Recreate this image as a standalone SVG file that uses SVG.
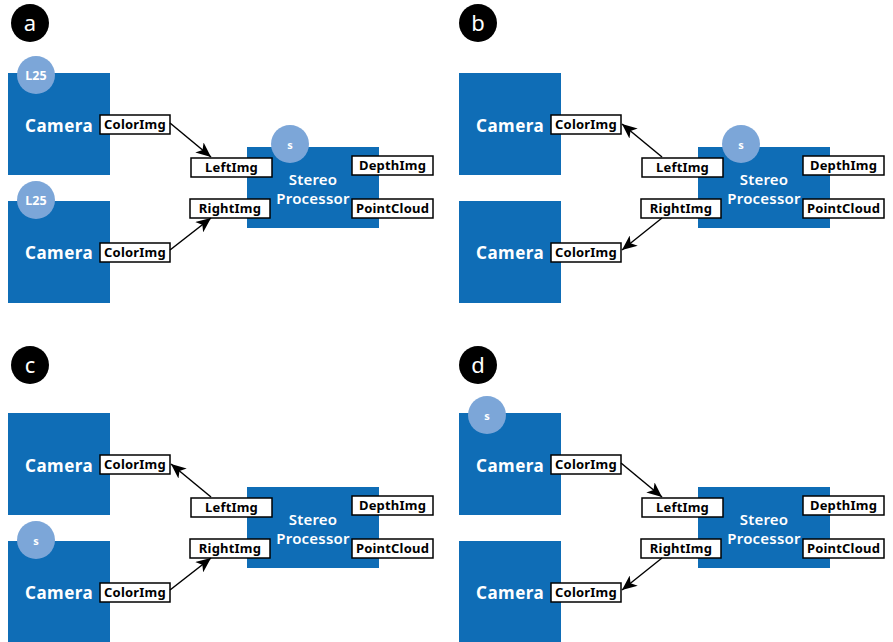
<svg xmlns="http://www.w3.org/2000/svg" width="893" height="642" viewBox="0 0 893 642">
<style>
.blk{fill:#0f6db6}
.lc{fill:#7ca6d8}
.lct{fill:#fff;font-family:"Noto Sans","Open Sans",sans-serif;font-weight:bold;font-size:12.5px;text-anchor:middle}
.cam{fill:#fff;font-family:"Noto Sans","Open Sans",sans-serif;font-weight:bold;font-size:17px;letter-spacing:0.5px}
.proc{fill:#fff;font-family:"Noto Sans","Open Sans",sans-serif;font-weight:600;font-size:15px;text-anchor:middle;letter-spacing:0.2px}
.port{fill:#fff;stroke:#000;stroke-width:1.5}
.pt{fill:#000;font-family:"Noto Sans","Open Sans",sans-serif;font-weight:bold;font-size:13px;text-anchor:middle;letter-spacing:0.2px}
.pl{fill:#000}
.plt{fill:#fff;font-family:"Noto Sans","Open Sans",sans-serif;font-size:22px;text-anchor:middle}
.edge{stroke:#000;stroke-width:1.5;fill:none;marker-end:url(#ah)}
</style>
<defs>
<marker id="ah" markerUnits="userSpaceOnUse" markerWidth="17" markerHeight="13" refX="15" refY="6.5" orient="auto">
<path d="M0,0 L15,6.5 L0,13 L4,6.5 z" fill="#000"/>
</marker>
</defs>
<rect width="893" height="642" fill="#fff"/>

<g id="labels">
<g id="label-a"><circle class="pl" cx="30" cy="23" r="19"/><text class="plt" x="30" y="31">a</text></g>
<g id="label-b"><circle class="pl" cx="478" cy="23" r="19"/><text class="plt" x="478" y="31">b</text></g>
<g id="label-c"><circle class="pl" cx="30" cy="365" r="19"/><text class="plt" x="30" y="373">c</text></g>
<g id="label-d"><circle class="pl" cx="478" cy="365" r="19"/><text class="plt" x="478" y="373">d</text></g>
</g>

<!-- Panel a -->
<g id="panel-a">
<g id="a-camera1"><rect class="blk" x="8" y="73" width="102" height="102"/><circle class="lc" cx="36" cy="75" r="19"/><text class="lct" x="36" y="80">L25</text><text class="cam" x="25" y="132">Camera</text><rect class="port" x="100" y="115" width="70" height="19"/><text class="pt" x="135" y="129">ColorImg</text></g>
<g id="a-camera2"><rect class="blk" x="8" y="201" width="102" height="102"/><circle class="lc" cx="36" cy="200" r="19"/><text class="lct" x="36" y="205">L25</text><text class="cam" x="25" y="259">Camera</text><rect class="port" x="100" y="243" width="70" height="19"/><text class="pt" x="135" y="257">ColorImg</text></g>
<g id="a-stereo"><rect class="blk" x="247" y="147" width="132" height="81"/><circle class="lc" cx="290" cy="144" r="19"/><text class="lct" x="290" y="149" style="font-size:11px">s</text><text class="proc" x="313" y="185">Stereo</text><text class="proc" x="313" y="204">Processor</text><rect class="port" x="191" y="158" width="81" height="19"/><text class="pt" x="231.5" y="172">LeftImg</text><rect class="port" x="190" y="199" width="80" height="19"/><text class="pt" x="230" y="213">RightImg</text><rect class="port" x="352" y="156" width="81" height="19"/><text class="pt" x="392.5" y="170">DepthImg</text><rect class="port" x="352" y="199" width="81" height="19"/><text class="pt" x="392.5" y="213">PointCloud</text></g>
<g id="a-connectors"><line class="edge" x1="170" y1="123" x2="211" y2="157"/><line class="edge" x1="170" y1="250" x2="211" y2="218"/></g>
</g>

<!-- Panel b -->
<g id="panel-b" transform="translate(451,0)">
<g id="b-camera1"><rect class="blk" x="8" y="73" width="102" height="102"/><text class="cam" x="25" y="132">Camera</text><rect class="port" x="100" y="115" width="70" height="19"/><text class="pt" x="135" y="129">ColorImg</text></g>
<g id="b-camera2"><rect class="blk" x="8" y="201" width="102" height="102"/><text class="cam" x="25" y="259">Camera</text><rect class="port" x="100" y="243" width="70" height="19"/><text class="pt" x="135" y="257">ColorImg</text></g>
<g id="b-stereo"><rect class="blk" x="247" y="147" width="132" height="81"/><circle class="lc" cx="290" cy="144" r="19"/><text class="lct" x="290" y="149" style="font-size:11px">s</text><text class="proc" x="313" y="185">Stereo</text><text class="proc" x="313" y="204">Processor</text><rect class="port" x="191" y="158" width="81" height="19"/><text class="pt" x="231.5" y="172">LeftImg</text><rect class="port" x="190" y="199" width="80" height="19"/><text class="pt" x="230" y="213">RightImg</text><rect class="port" x="352" y="156" width="81" height="19"/><text class="pt" x="392.5" y="170">DepthImg</text><rect class="port" x="352" y="199" width="81" height="19"/><text class="pt" x="392.5" y="213">PointCloud</text></g>
<g id="b-connectors"><line class="edge" x1="211" y1="157" x2="171" y2="124"/><line class="edge" x1="211" y1="218" x2="171" y2="250"/></g>
</g>

<!-- Panel c -->
<g id="panel-c" transform="translate(0,340)">
<g id="c-camera1"><rect class="blk" x="8" y="73" width="102" height="102"/><text class="cam" x="25" y="132">Camera</text><rect class="port" x="100" y="115" width="70" height="19"/><text class="pt" x="135" y="129">ColorImg</text></g>
<g id="c-camera2"><rect class="blk" x="8" y="201" width="102" height="102"/><circle class="lc" cx="36" cy="200" r="19"/><text class="lct" x="36" y="205" style="font-size:11px">s</text><text class="cam" x="25" y="259">Camera</text><rect class="port" x="100" y="243" width="70" height="19"/><text class="pt" x="135" y="257">ColorImg</text></g>
<g id="c-stereo"><rect class="blk" x="247" y="147" width="132" height="81"/><text class="proc" x="313" y="185">Stereo</text><text class="proc" x="313" y="204">Processor</text><rect class="port" x="191" y="158" width="81" height="19"/><text class="pt" x="231.5" y="172">LeftImg</text><rect class="port" x="190" y="199" width="80" height="19"/><text class="pt" x="230" y="213">RightImg</text><rect class="port" x="352" y="156" width="81" height="19"/><text class="pt" x="392.5" y="170">DepthImg</text><rect class="port" x="352" y="199" width="81" height="19"/><text class="pt" x="392.5" y="213">PointCloud</text></g>
<g id="c-connectors"><line class="edge" x1="211" y1="157" x2="171" y2="124"/><line class="edge" x1="170" y1="250" x2="211" y2="218"/></g>
</g>

<!-- Panel d -->
<g id="panel-d" transform="translate(451,340)">
<g id="d-camera1"><rect class="blk" x="8" y="73" width="102" height="102"/><circle class="lc" cx="36" cy="75" r="19"/><text class="lct" x="36" y="80" style="font-size:11px">s</text><text class="cam" x="25" y="132">Camera</text><rect class="port" x="100" y="115" width="70" height="19"/><text class="pt" x="135" y="129">ColorImg</text></g>
<g id="d-camera2"><rect class="blk" x="8" y="201" width="102" height="102"/><text class="cam" x="25" y="259">Camera</text><rect class="port" x="100" y="243" width="70" height="19"/><text class="pt" x="135" y="257">ColorImg</text></g>
<g id="d-stereo"><rect class="blk" x="247" y="147" width="132" height="81"/><text class="proc" x="313" y="185">Stereo</text><text class="proc" x="313" y="204">Processor</text><rect class="port" x="191" y="158" width="81" height="19"/><text class="pt" x="231.5" y="172">LeftImg</text><rect class="port" x="190" y="199" width="80" height="19"/><text class="pt" x="230" y="213">RightImg</text><rect class="port" x="352" y="156" width="81" height="19"/><text class="pt" x="392.5" y="170">DepthImg</text><rect class="port" x="352" y="199" width="81" height="19"/><text class="pt" x="392.5" y="213">PointCloud</text></g>
<g id="d-connectors"><line class="edge" x1="170" y1="123" x2="211" y2="157"/><line class="edge" x1="211" y1="218" x2="171" y2="250"/></g>
</g>
</svg>
